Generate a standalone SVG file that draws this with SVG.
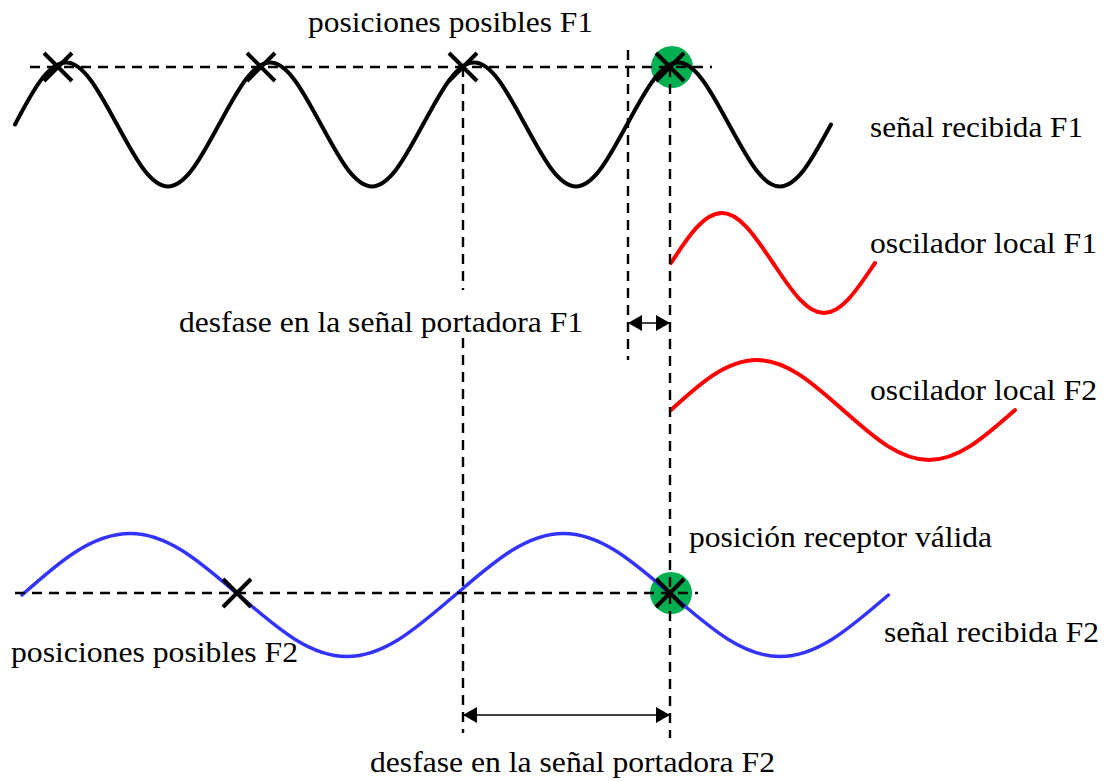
<svg xmlns="http://www.w3.org/2000/svg" width="1108" height="781" viewBox="0 0 1108 781">
<style>
.wave{fill:none;stroke-linecap:round;stroke-linejoin:round}
.black{stroke:#000;stroke-width:4}
.red{stroke:#ff0000;stroke-width:4}
.blue{stroke:#3333ff;stroke-width:3.5}
.dash{fill:none;stroke:#000;stroke-width:2.4;stroke-dasharray:10 7}
.cross{fill:none;stroke:#000;stroke-width:4}
.dot{fill:#00b050}
.arr{fill:none;stroke:#000;stroke-width:1.5;marker-start:url(#ah);marker-end:url(#ah)}
text{font-family:"Liberation Serif","Times New Roman",serif;font-size:29px;fill:#000}
</style>
<defs>
<marker id="ah" viewBox="0 0 14 16" refX="14" refY="8" markerWidth="14" markerHeight="16" markerUnits="userSpaceOnUse" orient="auto-start-reverse">
<path d="M0,0 L14,8 L0,16 z" fill="#000"/>
</marker>
<path id="x" d="M-14,-14 L14,14 M-14,14 L14,-14"/>
</defs>

<g id="markers-bg">
<circle class="dot" cx="672" cy="67" r="21"/>
<circle class="dot" cx="671" cy="593" r="21"/>
</g>

<g id="signal-f1">
<path class="wave black" d="M15,124.5 c16.63,-31.76 32.54,-62 51,-62 s34.37,31.76 51,62 s32.54,62 51,62 s34.37,-31.76 51,-62 s32.54,-62 51,-62 s34.37,31.76 51,62 s32.54,62 51,62 s34.37,-31.76 51,-62 s32.54,-62 51,-62 s34.37,31.76 51,62 s32.54,62 51,62 s34.37,-31.76 51,-62 s32.54,-62 51,-62 s34.37,31.76 51,62 s32.54,62 51,62 s34.37,-31.76 51,-62"/>
</g>
<g id="oscilador-f1">
<path class="wave red" d="M671,263 c16.63,-25.6 32.54,-50 51,-50 s34.37,25.6 51,50 s32.54,50 51,50 s34.37,-25.6 51,-50"/>
</g>
<g id="oscilador-f2">
<path class="wave red" d="M671,410 c28.04,-25.6 54.88,-50 86,-50 s57.96,25.6 86,50 s54.88,50 86,50 s57.96,-25.6 86,-50"/>
</g>
<g id="signal-f2">
<path class="wave blue" d="M22,595 c35.32,-31.51 69.11,-61.5 108.3,-61.5 s72.98,31.51 108.3,61.5 s69.11,61.5 108.3,61.5 s72.98,-31.51 108.3,-61.5 s69.11,-61.5 108.3,-61.5 s72.98,31.51 108.3,61.5 s69.11,61.5 108.3,61.5 s72.98,-31.51 108.3,-61.5"/>
</g>

<g id="connectors">
<line class="dash" x1="30" y1="67" x2="712" y2="67"/>
<line class="dash" x1="15" y1="593" x2="698" y2="593"/>
<line class="dash" x1="463" y1="67" x2="463" y2="290"/>
<line class="dash" x1="463" y1="338" x2="463" y2="733"/>
<line class="dash" x1="628" y1="50" x2="628" y2="360"/>
<line class="dash" x1="670" y1="67" x2="670" y2="738"/>
<line class="arr" x1="628" y1="323" x2="670" y2="323"/>
<line class="arr" x1="463" y1="715" x2="670" y2="715"/>
</g>

<g id="crosses">
<use href="#x" class="cross" x="58" y="67"/>
<use href="#x" class="cross" x="261" y="67"/>
<use href="#x" class="cross" x="463" y="67"/>
<use href="#x" class="cross" x="670" y="67"/>
<use href="#x" class="cross" x="237" y="593"/>
<use href="#x" class="cross" x="670" y="593"/>
</g>

<g id="labels">
<text x="308" y="32" textLength="285" lengthAdjust="spacingAndGlyphs">posiciones posibles F1</text>
<text x="870" y="137" textLength="213" lengthAdjust="spacingAndGlyphs">señal recibida F1</text>
<text x="870" y="253" textLength="227" lengthAdjust="spacingAndGlyphs">oscilador local F1</text>
<text x="179" y="332" textLength="404" lengthAdjust="spacingAndGlyphs">desfase en la señal portadora F1</text>
<text x="870" y="400" textLength="227" lengthAdjust="spacingAndGlyphs">oscilador local F2</text>
<text x="689" y="547" textLength="303" lengthAdjust="spacingAndGlyphs">posición receptor válida</text>
<text x="884" y="642" textLength="215" lengthAdjust="spacingAndGlyphs">señal recibida F2</text>
<text x="11" y="662" textLength="287" lengthAdjust="spacingAndGlyphs">posiciones posibles F2</text>
<text x="370" y="772" textLength="405" lengthAdjust="spacingAndGlyphs">desfase en la señal portadora F2</text>
</g>
</svg>
